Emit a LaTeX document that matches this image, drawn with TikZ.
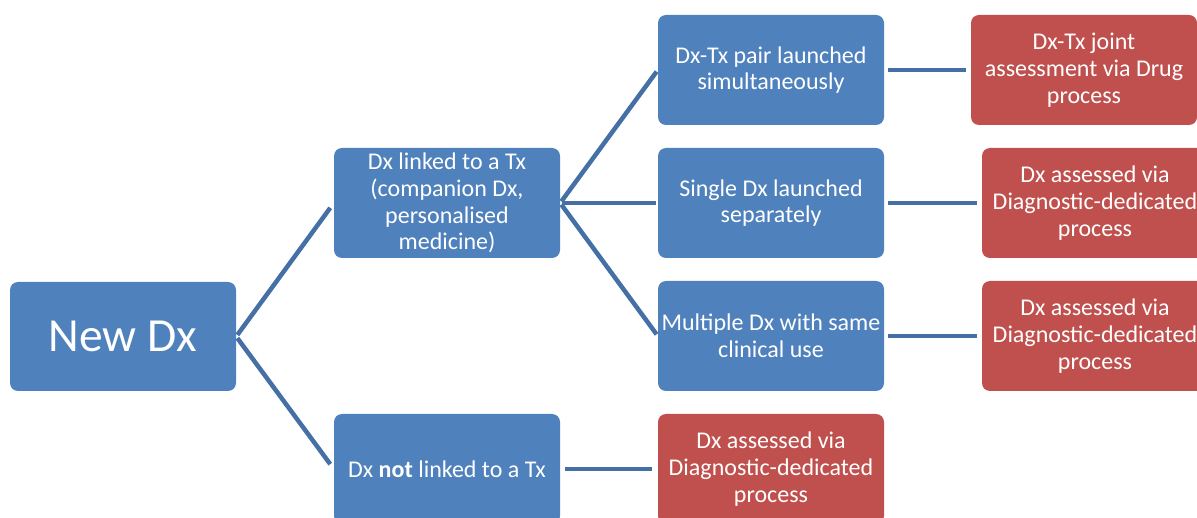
\documentclass[tikz,border=0pt]{standalone}
\usepackage{fontspec}
\setmainfont{Carlito}
\definecolor{bluefill}{HTML}{4F81BD}
\definecolor{redfill}{HTML}{C0504D}
\definecolor{linkcol}{HTML}{4570A6}
\begin{document}
\begin{tikzpicture}[x=1pt,y=-1pt,
  box/.style={rounded corners=8pt, minimum width=226pt, minimum height=110pt,
    inner sep=2pt, text=white, align=center, font=\fontsize{24}{26.7}\selectfont},
  bluebox/.style={box, fill=bluefill},
  redbox/.style={box, fill=redfill},
  conn/.style={draw=linkcol, line width=4.5pt}
]
\useasboundingbox (0,0) rectangle (1197,518);
\clip (0,0) rectangle (1197,518);
\node[bluebox, minimum height=109pt, font=\fontsize{47.5}{56}\selectfont] (newdx) at (123,336.5) {New Dx};
\node[bluebox] (link) at (447,203) {Dx linked to a Tx\\(companion Dx,\\personalised\\medicine)};
\node[bluebox] (notlink) at (447,469) {Dx \textbf{not} linked to a Tx};
\node[bluebox] (pair) at (771,70) {Dx-Tx pair launched\\simultaneously};
\node[bluebox] (single) at (771,203) {Single Dx launched\\separately};
\node[bluebox] (multi) at (771,336) {Multiple Dx with same\\clinical use};
\node[redbox] (red1) at (1084,70) {Dx-Tx joint\\assessment via Drug\\process};
\node[redbox] (red2) at (1095,203) {Dx assessed via\\Diagnostic-dedicated\\process};
\node[redbox] (red3) at (1095,336) {Dx assessed via\\Diagnostic-dedicated\\process};
\node[redbox] (red4) at (771,469) {Dx assessed via\\Diagnostic-dedicated\\process};
\draw[conn, shorten <=2pt, shorten >=6pt] (newdx.east) -- (link.west);
\draw[conn, shorten <=2pt, shorten >=6pt] (newdx.east) -- (notlink.west);
\draw[conn, shorten <=2pt, shorten >=2pt] (link.east) -- (pair.west);
\draw[conn, shorten <=2pt, shorten >=2pt] (link.east) -- (single.west);
\draw[conn, shorten <=2pt, shorten >=2pt] (link.east) -- (multi.west);
\draw[conn, shorten <=4pt, shorten >=5pt] (pair.east) -- (red1.west);
\draw[conn, shorten <=4pt, shorten >=5pt] (single.east) -- (red2.west);
\draw[conn, shorten <=4pt, shorten >=5pt] (multi.east) -- (red3.west);
\draw[conn, shorten <=5pt, shorten >=6pt] (notlink.east) -- (red4.west);
\end{tikzpicture}
\end{document}
